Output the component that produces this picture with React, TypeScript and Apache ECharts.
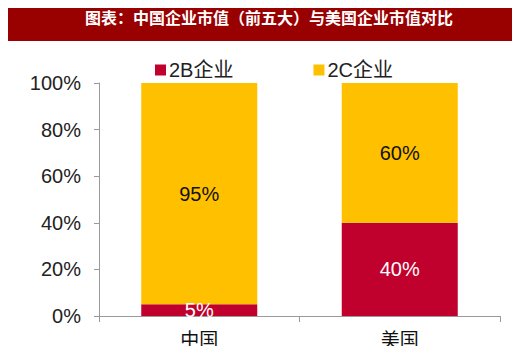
import React, { useEffect, useRef } from "react";
import * as echarts from "echarts";

const categories = ["中国", "美国"];
const series2B = [5, 40];
const series2C = [95, 60];
const seriesNames = ["2B企业", "2C企业"];
const titleText = "图表：中国企业市值（前五大）与美国企业市值对比";

export default function App() {
  const ref = useRef<HTMLDivElement>(null);
  useEffect(() => {
    if (!ref.current) return;
    const chart = echarts.init(ref.current, null, { renderer: "svg" });
    const font = "Liberation Sans, Arial, Noto Sans CJK SC, sans-serif";
    chart.setOption({
      animation: false,
      backgroundColor: "#ffffff",
      graphic: [
        {
          type: "rect",
          shape: { x: 1, y: 5, width: 518, height: 36 },
          style: { fill: "#990000" },
          silent: true,
        },
        {
          type: "text",
          x: 269,
          y: 17,
          style: {
            text: titleText,
            fill: "#ffffff",
            font: "bold 16px 'Noto Sans CJK SC', sans-serif",
            textAlign: "center",
            textVerticalAlign: "middle",
          },
          silent: true,
        },
      ],
      legend: {
        top: 55,
        left: 150,
        itemWidth: 11,
        itemHeight: 11,
        itemGap: 80,
        icon: "rect",
        data: seriesNames,
        textStyle: { fontSize: 20, fontFamily: font, color: "#222", padding: [0, 0, 0, -2] },
      },
      grid: { left: 99, right: 20, top: 83, bottom: 38 },
      xAxis: {
        type: "category",
        data: categories,
        axisLine: { lineStyle: { color: "#9a9a9a", width: 1 } },
        axisTick: { show: true, length: 6, lineStyle: { color: "#9a9a9a" } },
        axisLabel: {
          fontSize: 19,
          fontFamily: "Noto Sans CJK SC, serif",
          color: "#111",
          margin: 13,
        },
      },
      yAxis: {
        type: "value",
        min: 0,
        max: 100,
        interval: 20,
        splitLine: { show: false },
        axisLine: { show: true, lineStyle: { color: "#9a9a9a", width: 1 } },
        axisTick: { show: true, length: 5, lineStyle: { color: "#9a9a9a" } },
        axisLabel: {
          formatter: "{value}%",
          fontSize: 20,
          fontFamily: font,
          color: "#222",
          margin: 18,
        },
      },
      series: [
        {
          name: seriesNames[0],
          type: "bar",
          stack: "total",
          data: series2B,
          barWidth: 116,
          itemStyle: { color: "#C0002D" },
          label: {
            show: true,
            position: "inside",
            formatter: "{c}%",
            color: "#ffffff",
            fontSize: 20,
            fontFamily: font,
          },
        },
        {
          name: seriesNames[1],
          type: "bar",
          stack: "total",
          data: series2C,
          barWidth: 116,
          itemStyle: { color: "#FFC000" },
          label: {
            show: true,
            position: "inside",
            formatter: "{c}%",
            color: "#111111",
            fontSize: 20,
            fontFamily: font,
          },
        },
      ],
    });
    return () => chart.dispose();
  }, []);
  return <div ref={ref} style={{ width: 520, height: 354, margin: -8 }} />;
}
